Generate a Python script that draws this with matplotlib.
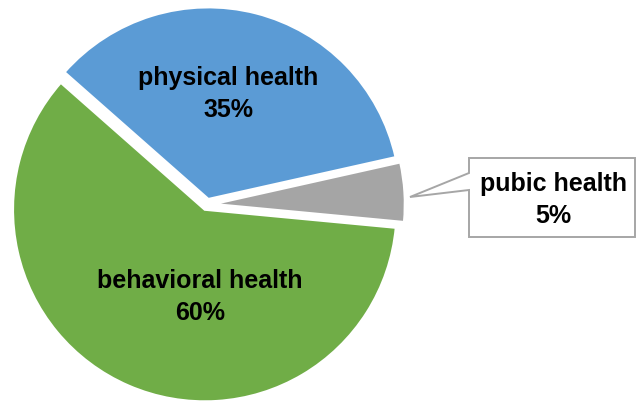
import matplotlib
matplotlib.use("Agg")
import matplotlib.pyplot as plt
from matplotlib.patches import Polygon

# data
categories = ["physical health", "pubic health", "behavioral health"]
shares = [35, 5, 60]
colors = ["#5B9BD5", "#A5A5A5", "#70AD47"]
explode = [5.5, 6, 5.5]  # in pixels (pie explode is in data units)

W, H = 637, 403
fig = plt.figure(figsize=(W / 100, H / 100), dpi=100)
ax = fig.add_axes([0, 0, 1, 1])

wedges, _ = ax.pie(shares, colors=colors, explode=explode, startangle=138.6,
                   counterclock=False, radius=192, center=(207, 198.5),
                   wedgeprops=dict(edgecolor="white", linewidth=1.8))
for w in wedges:
    w.set_joinstyle("miter")

ax.set_xlim(0, W)
ax.set_ylim(0, H)
ax.set_aspect("equal")
ax.axis("off")

font = dict(family=["Liberation Sans", "DejaVu Sans"], fontweight="bold",
            fontsize=18, ha="center", va="center", linespacing=1.4)
lbl = [f"{c}\n{v}%" for c, v in zip(categories, shares)]
ax.text(228, H - 94, lbl[0], **font)
ax.text(200, H - 297, lbl[2], **font)

# callout box for the small slice
box = [(469, 158), (635, 158), (635, 237), (469, 237), (469, 190), (410, 197), (469, 173)]
ax.add_patch(Polygon([(x, H - y) for x, y in box], closed=True, facecolor="white",
                     edgecolor="#A6A6A6", linewidth=1.4, zorder=3))
ax.text(553, H - 200, lbl[1], zorder=4, **font)

fig.savefig("out.png", dpi=100)
